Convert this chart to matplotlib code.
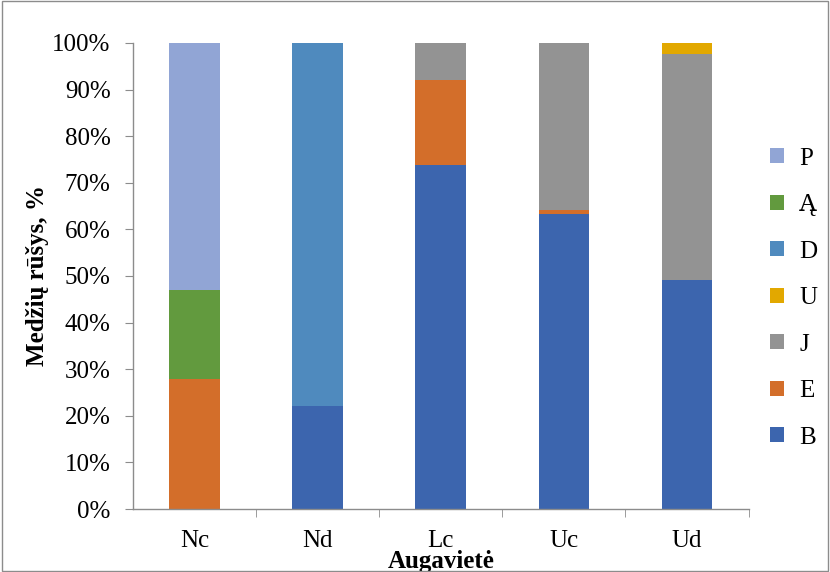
import matplotlib.pyplot as plt
from matplotlib.patches import Rectangle

plt.rcParams['font.family'] = ['Liberation Serif', 'DejaVu Serif']

sites = ["Nc", "Nd", "Lc", "Uc", "Ud"]
species = ["B", "E", "J", "U", "D", "Ą", "P"]
# shares in percent, stacked bottom to top in the order of species
B = [0.0, 22.1, 73.8, 63.3, 49.1]
E = [27.9, 0.0, 18.3, 0.9, 0.0]
J = [0.0, 0.0, 7.9, 35.8, 48.5]
U = [0.0, 0.0, 0.0, 0.0, 2.4]
D = [0.0, 78.1, 0.0, 0.0, 0.0]
A = [19.1, 0.0, 0.0, 0.0, 0.0]
P = [53.0, 0.0, 0.0, 0.0, 0.0]
values = [B, E, J, U, D, A, P]
colors = ["#3C65AE", "#D36E2A", "#939393", "#E2A800", "#4F8ABE", "#629A3E", "#91A5D5"]

fig = plt.figure(figsize=(8.3, 5.72), dpi=100)
ax = fig.add_axes([0.160, 0.110, 0.742, 0.815])

x = range(len(sites))
bottom = [0.0] * len(sites)
handles = []
for name, vals, col in zip(species, values, colors):
    bars = ax.bar(x, vals, 0.41, bottom=bottom, color=col, label=name,
                  edgecolor="none")
    bottom = [b + v for b, v in zip(bottom, vals)]
    handles.append(bars)

ax.set_xlim(-0.5, 4.5)
ax.set_ylim(0, 100)
ax.set_yticks(range(0, 101, 10))
ax.set_yticklabels([f"{t}%" for t in range(0, 101, 10)], fontsize=18)
ax.set_xticks(list(x))
ax.set_xticklabels(sites, fontsize=18)
ax.set_xticks([0.5, 1.5, 2.5, 3.5, 4.5], minor=True)
ax.tick_params(axis="x", which="major", length=0, pad=15)
ax.tick_params(axis="x", which="minor", length=6, color="#8c8c8c", direction="out")
ax.tick_params(axis="y", length=6, color="#8c8c8c", direction="out", pad=10)

for s in ["top", "right"]:
    ax.spines[s].set_visible(False)
for s in ["left", "bottom"]:
    ax.spines[s].set_color("#8c8c8c")
    ax.spines[s].set_linewidth(1.0)

ax.set_ylabel("Medžių rūšys, %", fontsize=18, fontweight="bold")
ax.yaxis.set_label_coords(-0.136, 0.5)
ax.set_xlabel("Augavietė", fontsize=18, fontweight="bold")
ax.xaxis.set_label_coords(0.5, -0.088)

leg = fig.legend(handles[::-1], species[::-1], loc="center left",
                 bbox_to_anchor=(0.913, 0.479), frameon=False, fontsize=18,
                 handlelength=0.55, handleheight=0.55, handletextpad=0.6,
                 labelspacing=0.98, borderpad=0)

fig.patches.append(Rectangle((0.002, 0.002), 0.996, 0.996, transform=fig.transFigure,
                             fill=False, edgecolor="#8c8c8c", linewidth=1.0))

fig.savefig("out.png", dpi=100)
